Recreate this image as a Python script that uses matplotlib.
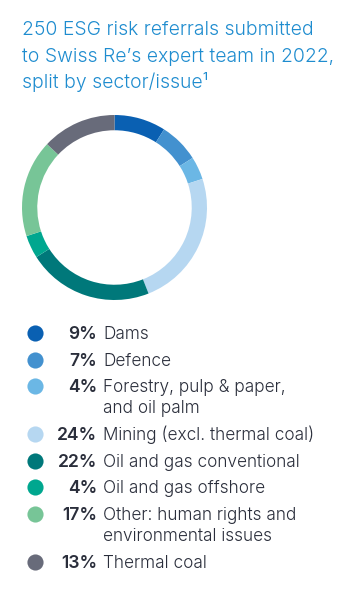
import matplotlib.pyplot as plt

# referrals by sector/issue, in percent
sectors = [
    "Dams",
    "Defence",
    "Forestry, pulp & paper,\nand oil palm",
    "Mining (excl. thermal coal)",
    "Oil and gas conventional",
    "Oil and gas offshore",
    "Other: human rights and\nenvironmental issues",
    "Thermal coal",
]
shares = [9, 7, 4, 24, 22, 4, 17, 13]
colors = ["#0A60B2", "#4391CF", "#6BB7E5", "#B6D7F1",
          "#00787A", "#00A78F", "#77C597", "#686B7A"]

title_lines = ["250 ESG risk referrals submitted",
               "to Swiss Re\u2019s expert team in 2022,",
               "split by sector/issue\u00b9"]

W, H = 342, 604
plt.rcParams["font.family"] = ["Inter", "DejaVu Sans"]
fig = plt.figure(figsize=(W / 100, H / 100), dpi=100)

# overlay axes in pixel units for text and legend dots
ov = fig.add_axes([0, 0, 1, 1])
ov.set_xlim(0, W)
ov.set_ylim(H, 0)
ov.axis("off")

for i, line in enumerate(title_lines):
    ov.text(22, 35 + i * 26.5, line, fontsize=13.95, color="#1E8CCF",
            weight=300, va="baseline", ha="left")

# donut
cx, cy, r = 114.5, 207.5, 92.5
dax = fig.add_axes([(cx - r) / W, (H - cy - r) / H, 2 * r / W, 2 * r / H])
dax.pie(shares, colors=colors, startangle=90, counterclock=False,
        radius=1, wedgeprops=dict(width=0.165, linewidth=0))
dax.set_xlim(-1, 1)
dax.set_ylim(-1, 1)
dax.set_aspect("equal")
dax.axis("off")

# legend rows
y = 333
row_gap, wrap_gap = 26.7, 21
for name, pct, c in zip(sectors, shares, colors):
    ov.scatter([35], [y], s=135, color=c, linewidths=0, zorder=3)
    ov.text(97, y + 6, f"{pct}%", fontsize=12.6, weight=600,
            color="#2A2E3B", ha="right", va="baseline")
    lines = name.split("\n")
    for k, line in enumerate(lines):
        ov.text(103, y + 6 + k * wrap_gap, line, fontsize=12.4,
                weight=300, color="#2A2E3B", ha="left", va="baseline")
    y += row_gap + wrap_gap * (len(lines) - 1)

fig.savefig("out.png", dpi=100)
